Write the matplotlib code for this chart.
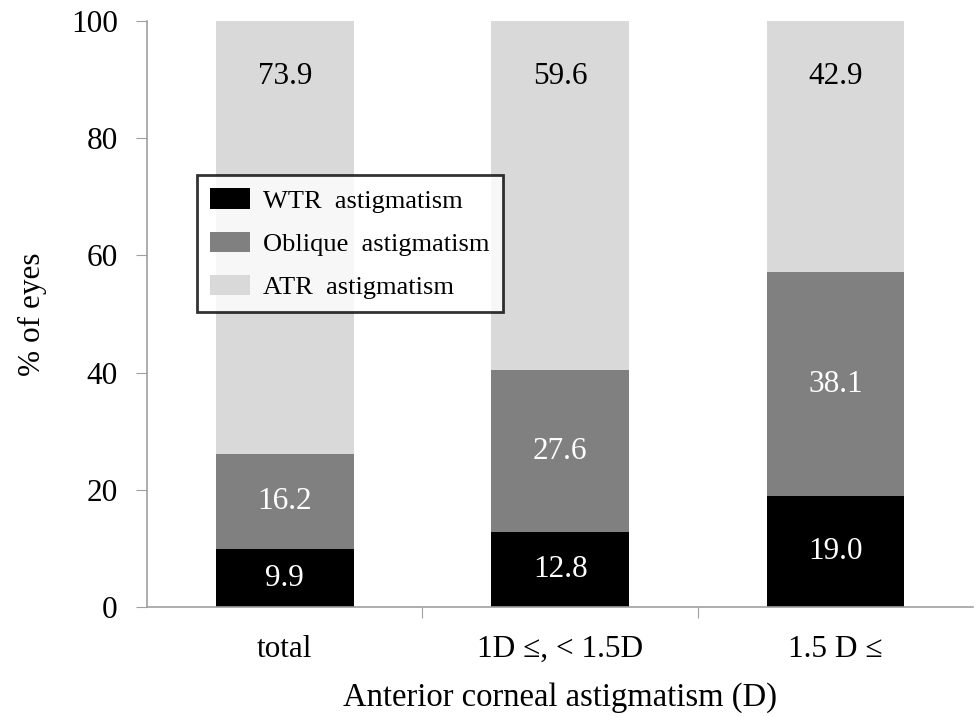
import matplotlib
matplotlib.use("Agg")
import matplotlib.pyplot as plt
import numpy as np

categories = ["total", "1D \u2264, < 1.5D", "1.5 D \u2264"]
wtr = [9.9, 12.8, 19.0]
oblique = [16.2, 27.6, 38.1]
atr = [73.9, 59.6, 42.9]
series_names = ["WTR  astigmatism", "Oblique  astigmatism", "ATR  astigmatism"]
colors = ["#000000", "#808080", "#d9d9d9"]
text_colors = ["white", "white", "black"]

plt.rcParams['font.family'] = ['Liberation Serif', 'DejaVu Serif']

fig = plt.figure(figsize=(9.77, 7.17), dpi=100)
ax = fig.add_axes([0.1505, 0.1534, 0.8455, 0.8173])

FS = 22.5
x = np.arange(len(categories))
width = 0.5
bottoms = np.zeros(len(categories))
handles = []
for vals, name, c, tc in zip([wtr, oblique, atr], series_names, colors, text_colors):
    vals = np.array(vals)
    h = ax.bar(x, vals, width, bottom=bottoms, color=c, label=name)
    handles.append(h)
    for xi, b, v in zip(x, bottoms, vals):
        if c == "#d9d9d9":
            ypos = 90.6
        else:
            ypos = b + v / 2
        ax.text(xi, ypos, f"{v:.1f}", ha="center", va="center", color=tc, fontsize=FS)
    bottoms = bottoms + vals

ax.set_xlim(-0.5, len(categories) - 0.5)
ax.set_ylim(0, 100)
ax.set_yticks([0, 20, 40, 60, 80, 100])
ax.tick_params(axis='y', labelsize=FS, length=8, color='#a0a0a0', pad=13)
ax.set_xticks([0.5, 1.5])
ax.set_xticklabels([])
ax.tick_params(axis='x', which='major', length=8, color='#a0a0a0')
ax.set_xticks(x, minor=True)
ax.set_xticklabels(categories, minor=True)
ax.tick_params(axis='x', which='minor', length=0, labelsize=FS, pad=20)

for s in ['top', 'right']:
    ax.spines[s].set_visible(False)
for s in ['left', 'bottom']:
    ax.spines[s].set_color('#a0a0a0')
    ax.spines[s].set_linewidth(1.2)

ax.set_ylabel("% of eyes", fontsize=FS, labelpad=17)
ax.set_xlabel("Anterior corneal astigmatism (D)", fontsize=23.5, labelpad=13)

leg = ax.legend(handles=handles, loc='upper left', bbox_to_anchor=(0.0605, 0.737),
                borderaxespad=0, fontsize=19, frameon=True, fancybox=False,
                edgecolor='black', handlelength=1.5, handleheight=0.8,
                labelspacing=0.72, borderpad=0.5, handletextpad=0.5)
leg.get_frame().set_linewidth(2.0)

fig.savefig("out.png", dpi=100)
